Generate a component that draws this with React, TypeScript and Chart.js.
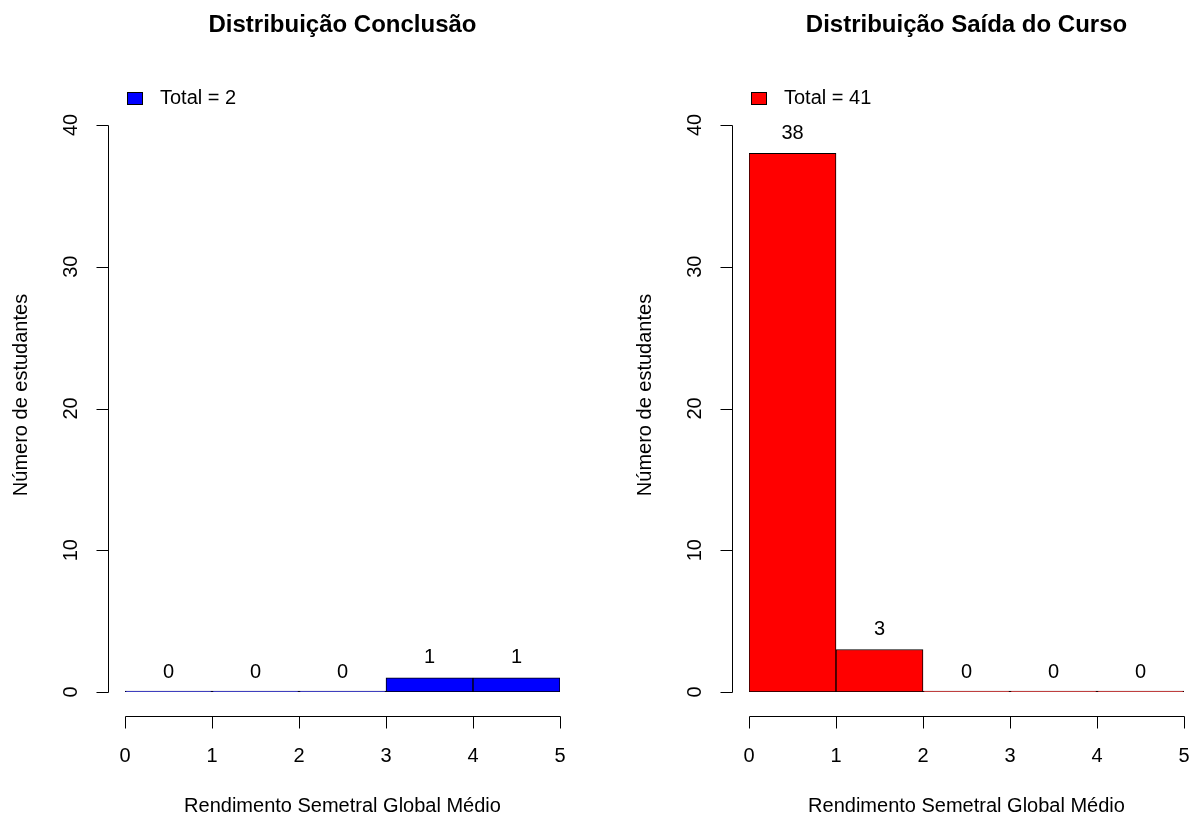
import React, { useEffect, useRef } from "react";
import { Chart, registerables } from "chart.js";

Chart.register(...registerables);

const binCenters = [0.5, 1.5, 2.5, 3.5, 4.5];
const conclusaoCounts = [0, 0, 0, 1, 1];
const saidaCounts = [38, 3, 0, 0, 0];
const xTicks = [0, 1, 2, 3, 4, 5];
const yTicks = [0, 10, 20, 30, 40];
const titleConclusao = "Distribuição Conclusão";
const titleSaida = "Distribuição Saída do Curso";
const legendConclusao = "Total = 2";
const legendSaida = "Total = 41";
const xLabel = "Rendimento Semetral Global Médio";
const yLabel = "Número de estudantes";

const FONT = "Liberation Sans, Arial, Helvetica, sans-serif";

function makePlugin(title: string, legendText: string, color: string, counts: number[]) {
  return {
    id: "rbase",
    afterDraw(chart: any) {
      const ctx = chart.ctx as CanvasRenderingContext2D;
      const xs = chart.scales.x;
      const ys = chart.scales.y;
      const area = chart.chartArea;
      ctx.save();
      ctx.fillStyle = "#000";
      ctx.strokeStyle = "#000";
      ctx.lineWidth = 1;
      ctx.textBaseline = "alphabetic";
      // title
      ctx.font = `bold 24px ${FONT}`;
      ctx.textAlign = "center";
      ctx.fillText(title, (area.left + area.right) / 2, 32);
      // legend
      ctx.fillStyle = color;
      ctx.fillRect(area.left + 2.5, 92.5, 15, 12);
      ctx.strokeRect(area.left + 2.5, 92.5, 15, 12);
      ctx.fillStyle = "#000";
      ctx.font = `20px ${FONT}`;
      ctx.textAlign = "left";
      ctx.fillText(legendText, area.left + 35, 104);
      // y axis
      const ax = Math.round(area.left - 17) + 0.5;
      const y0 = ys.getPixelForValue(yTicks[0]);
      const y1 = ys.getPixelForValue(yTicks[yTicks.length - 1]);
      ctx.beginPath();
      ctx.moveTo(ax, Math.round(y0) + 0.5);
      ctx.lineTo(ax, Math.round(y1) + 0.5);
      yTicks.forEach((t) => {
        const py = Math.round(ys.getPixelForValue(t)) + 0.5;
        ctx.moveTo(ax, py);
        ctx.lineTo(ax - 12, py);
      });
      ctx.stroke();
      yTicks.forEach((t) => {
        const py = ys.getPixelForValue(t);
        ctx.save();
        ctx.translate(area.left - 48, py);
        ctx.rotate(-Math.PI / 2);
        ctx.textAlign = "center";
        ctx.fillText(String(t), 0, 0);
        ctx.restore();
      });
      ctx.save();
      ctx.translate(area.left - 98, 395);
      ctx.rotate(-Math.PI / 2);
      ctx.textAlign = "center";
      ctx.fillText(yLabel, 0, 0);
      ctx.restore();
      // x axis
      const ay = Math.round(area.bottom + 24) + 0.5;
      const x0 = xs.getPixelForValue(xTicks[0]);
      const x1 = xs.getPixelForValue(xTicks[xTicks.length - 1]);
      ctx.beginPath();
      ctx.moveTo(Math.round(x0) + 0.5, ay);
      ctx.lineTo(Math.round(x1) + 0.5, ay);
      xTicks.forEach((t) => {
        const px = Math.round(xs.getPixelForValue(t)) + 0.5;
        ctx.moveTo(px, ay);
        ctx.lineTo(px, ay + 12);
      });
      ctx.stroke();
      ctx.textAlign = "center";
      xTicks.forEach((t) => {
        ctx.fillText(String(t), xs.getPixelForValue(t), area.bottom + 70);
      });
      ctx.fillText(xLabel, (x0 + x1) / 2, area.bottom + 120);
      // value labels
      counts.forEach((c, i) => {
        const px = xs.getPixelForValue(binCenters[i]);
        const py = ys.getPixelForValue(c);
        ctx.fillText(String(c), px, py - 14.5);
      });
      ctx.restore();
    },
  };
}

function Histo(props: {
  left: number;
  width: number;
  padLeft: number;
  padRight: number;
  counts: number[];
  color: string;
  title: string;
  legend: string;
}) {
  const ref = useRef<HTMLCanvasElement>(null);
  useEffect(() => {
    if (!ref.current) return;
    const chart = new Chart(ref.current, {
      type: "bar",
      data: {
        datasets: [
          {
            data: props.counts.map((c, i) => ({ x: binCenters[i], y: c })),
            backgroundColor: props.color,
            borderColor: "#000",
            borderWidth: 1,
            borderSkipped: false,
            minBarLength: 1,
            barPercentage: 1,
            categoryPercentage: 1,
          },
        ],
      },
      options: {
        responsive: false,
        animation: false,
        devicePixelRatio: 1,
        layout: { padding: { left: props.padLeft, right: props.padRight, top: 125, bottom: 122 } },
        plugins: { legend: { display: false }, tooltip: { enabled: false }, title: { display: false } },
        scales: {
          x: {
            type: "linear",
            min: xTicks[0],
            max: xTicks[xTicks.length - 1],
            display: false,
            offset: false,
            ticks: { stepSize: 1 },
          },
          y: { type: "linear", min: yTicks[0], max: yTicks[yTicks.length - 1], display: false },
        },
      },
      plugins: [makePlugin(props.title, props.legend, props.color, props.counts)],
    } as any);
    return () => chart.destroy();
  }, []);
  return (
    <canvas
      ref={ref}
      width={props.width}
      height={814}
      style={{ position: "absolute", left: props.left, top: 0, width: props.width, height: 814 }}
    />
  );
}

export default function App() {
  return (
    <div style={{ position: "fixed", left: 0, top: 0, width: 1190, height: 814, background: "#fff" }}>
      <Histo left={0} width={595} padLeft={125} padRight={35} counts={conclusaoCounts} color="#0000ff" title={titleConclusao} legend={legendConclusao} />
      <Histo left={595} width={595} padLeft={154} padRight={6} counts={saidaCounts} color="#ff0000" title={titleSaida} legend={legendSaida} />
    </div>
  );
}
